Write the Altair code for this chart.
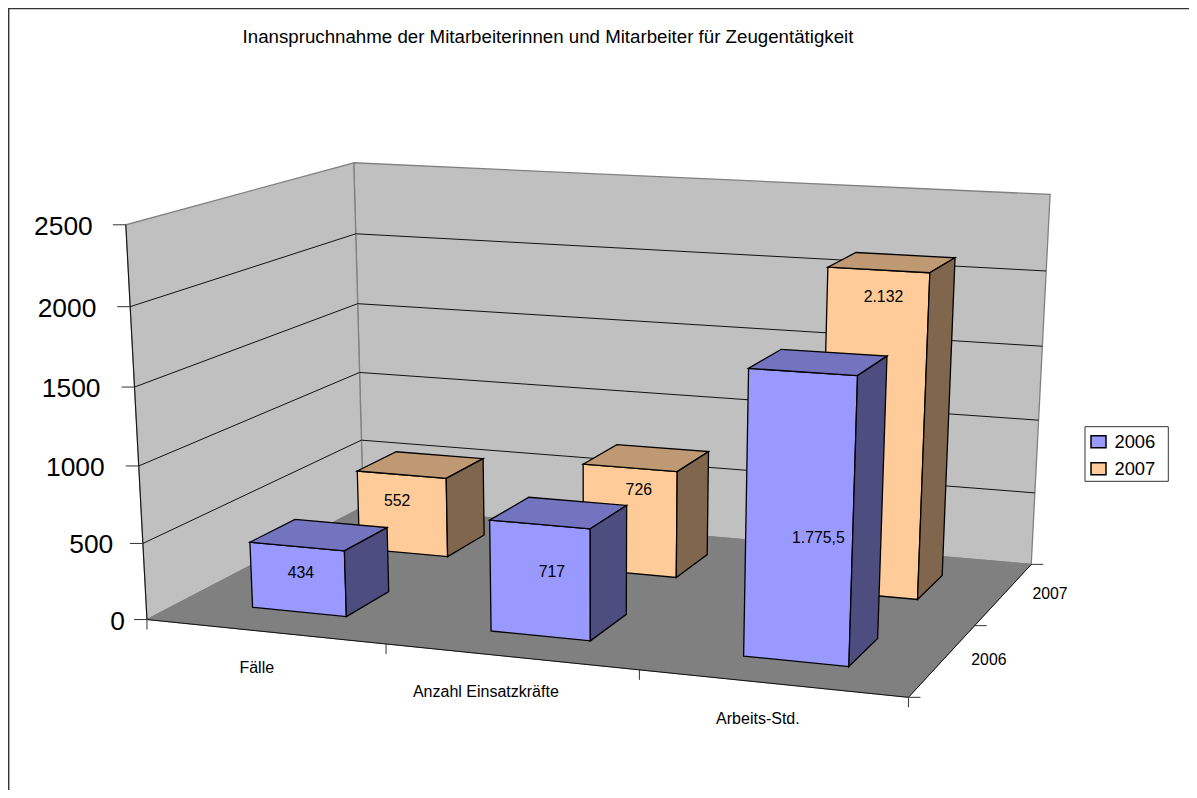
import numpy as np
import altair as alt

TITLE = "Inanspruchnahme der Mitarbeiterinnen und Mitarbeiter für Zeugentätigkeit"
CATEGORIES = ["Fälle", "Anzahl Einsatzkräfte", "Arbeits-Std."]
SERIES = ["2006", "2007"]
VALUES_2006 = [434, 717, 1775.5]
VALUES_2007 = [552, 726, 2132]
LABELS_2006 = ["434", "717", "1.775,5"]
LABELS_2007 = ["552", "726", "2.132"]
Y_TICKS = [0, 500, 1000, 1500, 2000, 2500]
Y_MAX = 2500

FRONT = {"2006": "#9999FF", "2007": "#FFCC99"}
TOP = {"2006": "#7373BF", "2007": "#BF9973"}
SIDE = {"2006": "#4D4D80", "2007": "#80664D"}

FONT = "Liberation Sans"
ORIGIN = np.array([8.0, 8.0])

# Camera calibration of the 3-D box: (category, depth, value share) -> picture pixel
CALIB = [
    ((0, 0, 0), (146.7, 619.3)), ((0, 0, .2), (143.3, 543.7)), ((0, 0, .4), (139, 465.7)),
    ((0, 0, .6), (135, 387.3)), ((0, 0, .8), (130, 307)), ((0, 0, 1), (125.3, 224.3)),
    ((0, 2, 1), (354, 162.7)), ((0, 2, 0), (363, 507)), ((3, 2, 1), (1050, 194.7)),
    ((3, 2, 0), (1031.7, 564)), ((3, 0, 0), (909, 697.3)), ((3, 1, 0), (974, 625.7)),
    ((1, 0, 0), (386, 644)), ((2, 0, 0), (639, 670)),
]
A, b = [], []
for (X, Y, Z), (u, v) in CALIB:
    A.append([X, Y, Z, 1, 0, 0, 0, 0, -u * X, -u * Y, -u * Z]); b.append(u)
    A.append([0, 0, 0, 0, X, Y, Z, 1, -v * X, -v * Y, -v * Z]); b.append(v)
M = np.append(np.linalg.lstsq(np.array(A, float), np.array(b, float), rcond=None)[0], 1).reshape(3, 4)


def project(cat, depth, value, dx=0.0, dy=0.0):
    h = M @ np.array([cat, depth, value / Y_MAX, 1.0])
    p = h[:2] / h[2] - ORIGIN + np.array([dx, dy])
    return [float(p[0]), float(p[1])]


def polygon(points):
    return {"type": "Feature", "properties": {}, "geometry": {"type": "Polygon", "coordinates": [points + [points[0]]]}}


def line(points):
    return {"type": "Feature", "properties": {}, "geometry": {"type": "LineString", "coordinates": points}}


def geo(features):
    return alt.InlineData(values={"type": "FeatureCollection", "features": features},
                          format=alt.DataFormat(property="features", type="json"))


IDENT = alt.Projection(type="identity", scale=1, translate=[0, 0])


def shapes(features, **style):
    return alt.Chart(geo(features)).mark_geoshape(**style).project(**IDENT.to_dict())


layers = []
# outer frame
layers.append(shapes([line([[0.7, 782], [0.7, 0.5], [1181, 0.5]])], filled=False, stroke="#333333", strokeWidth=1.4))
# legend box
layers.append(shapes([polygon([[1077, 418.7], [1160.3, 418.7], [1160.3, 473.3], [1077, 473.3]])],
                     fill="white", stroke="#333333", strokeWidth=1))
# walls and floor
wall_back = polygon([project(0, 2, 0), project(3, 2, 0), project(3, 2, Y_MAX), project(0, 2, Y_MAX)])
wall_left = polygon([project(0, 0, 0), project(0, 2, 0), project(0, 2, Y_MAX), project(0, 0, Y_MAX)])
floor = polygon([project(0, 0, 0), project(3, 0, 0), project(3, 2, 0), project(0, 2, 0)])
layers.append(shapes([wall_back, wall_left], fill="#C0C0C0", stroke="#808080", strokeWidth=1.3))
layers.append(shapes([floor], fill="#808080", stroke="#808080", strokeWidth=1))
# gridlines
grid = [line([project(0, 0, t), project(0, 2, t), project(3, 2, t)]) for t in Y_TICKS[1:-1]]
layers.append(shapes(grid, filled=False, stroke="#111111", strokeWidth=1))
# axes and ticks
edges = [line([project(0, 0, 0), project(0, 0, Y_MAX)]),
         line([project(0, 0, 0), project(3, 0, 0), project(3, 2, 0)])]
ticks = [line([project(0, 0, t, -13, 0), project(0, 0, t)]) for t in Y_TICKS]
ticks += [line([project(c, 0, 0), project(c, 0, 0, 0, 10)]) for c in range(4)]
ticks += [line([project(3, d, 0), project(3, d, 0, 12, 0)]) for d in range(3)]
layers.append(shapes(edges, filled=False, stroke="#111111", strokeWidth=1))
layers.append(shapes(ticks, filled=False, stroke="#333333", strokeWidth=1))

# bars, back series first
GAP = 0.3
legend = alt.Legend(title=None, orient="none", legendX=1085.3 - 8, legendY=420.5, padding=4,
                    symbolType="M-1,-0.8H1V0.8H-1Z", symbolSize=225, symbolStrokeColor="black",
                    symbolStrokeWidth=1.5, labelFont=FONT, labelFontSize=18.4, labelColor="black",
                    rowPadding=8, labelOffset=6.7)
for depth, (name, vals) in reversed(list(enumerate(zip(SERIES, [VALUES_2006, VALUES_2007])))):
    fronts, tops, sides = [], [], []
    for cat, val in enumerate(vals):
        x0, x1, d0, d1 = cat + GAP, cat + 1 - GAP, depth + GAP, depth + 1 - GAP
        f = polygon([project(x0, d0, 0), project(x1, d0, 0), project(x1, d0, val), project(x0, d0, val)])
        f["properties"]["series"] = name
        fronts.append(f)
        tops.append(polygon([project(x0, d0, val), project(x1, d0, val), project(x1, d1, val), project(x0, d1, val)]))
        sides.append(polygon([project(x1, d0, 0), project(x1, d1, 0), project(x1, d1, val), project(x1, d0, val)]))
    layers.append(
        alt.Chart(geo(fronts)).mark_geoshape(stroke="black", strokeWidth=1.3)
        .encode(color=alt.Color("properties.series:N",
                                scale=alt.Scale(domain=SERIES, range=[FRONT[s] for s in SERIES]),
                                legend=legend))
        .project(**IDENT.to_dict())
    )
    layers.append(shapes(tops, fill=TOP[name], stroke="black", strokeWidth=1.3))
    layers.append(shapes(sides, fill=SIDE[name], stroke="black", strokeWidth=1.3))

# text
rows_mid = [dict(t=TITLE, x=548 - 8, y=37 - 8, s=18.7)]
CAT_OFFSET = [(-8, 36), (-25, 35.5), (-14, 36)]
for i, c in enumerate(CATEGORIES):
    p = project(i + 0.5, 0, 0, *CAT_OFFSET[i])
    rows_mid.append(dict(t=c, x=p[0], y=p[1], s=16))
for d, s in enumerate(SERIES):
    p = project(3, d + 0.5, 0, 46, 0)
    rows_mid.append(dict(t=s, x=p[0], y=p[1], s=15.8))
# value labels: offset from the middle of each front face
LABEL_SHIFT_2006 = [(3, 0), (12, 3), (17, 107)]
LABEL_SHIFT_2007 = [(-5, -5), (9, -20), (7, -40)]
LABEL_SHARE = [0.6, 0.6, 0.8]
for depth, (vals, labs, shift) in enumerate([(VALUES_2006, LABELS_2006, LABEL_SHIFT_2006),
                                             (VALUES_2007, LABELS_2007, LABEL_SHIFT_2007)]):
    for cat, (val, lab, sh) in enumerate(zip(vals, labs, shift)):
        p = project(cat + 0.5, depth + GAP, val * LABEL_SHARE[cat], *sh)
        rows_mid.append(dict(t=lab, x=p[0], y=p[1], s=15.8))

layers.append(
    alt.Chart(alt.Data(values=rows_mid)).mark_text(font=FONT, color="black", align="center", baseline="middle")
    .encode(x=alt.X("x:Q", scale=None), y=alt.Y("y:Q", scale=None), text="t:N",
            size=alt.Size("s:Q", scale=None, legend=None))
)
TICK_GAP = [9, 16.6, 21, 21, 20.8, 20]
rows_y = []
for t, g in zip(Y_TICKS, TICK_GAP):
    p = project(0, 0, t, -13 - g, 2)
    rows_y.append(dict(t=str(t), x=p[0], y=p[1]))
layers.append(
    alt.Chart(alt.Data(values=rows_y)).mark_text(font=FONT, color="black", align="right", baseline="middle", fontSize=26.4)
    .encode(x=alt.X("x:Q", scale=None), y=alt.Y("y:Q", scale=None), text="t:N")
)

chart = alt.layer(*layers).properties(
    width=1181, height=782, padding=0, autosize=alt.AutoSizeParams(type="none"), background="white"
).configure_view(stroke=None)

chart.save("out.html", embed_options={"renderer": "svg", "actions": False})
